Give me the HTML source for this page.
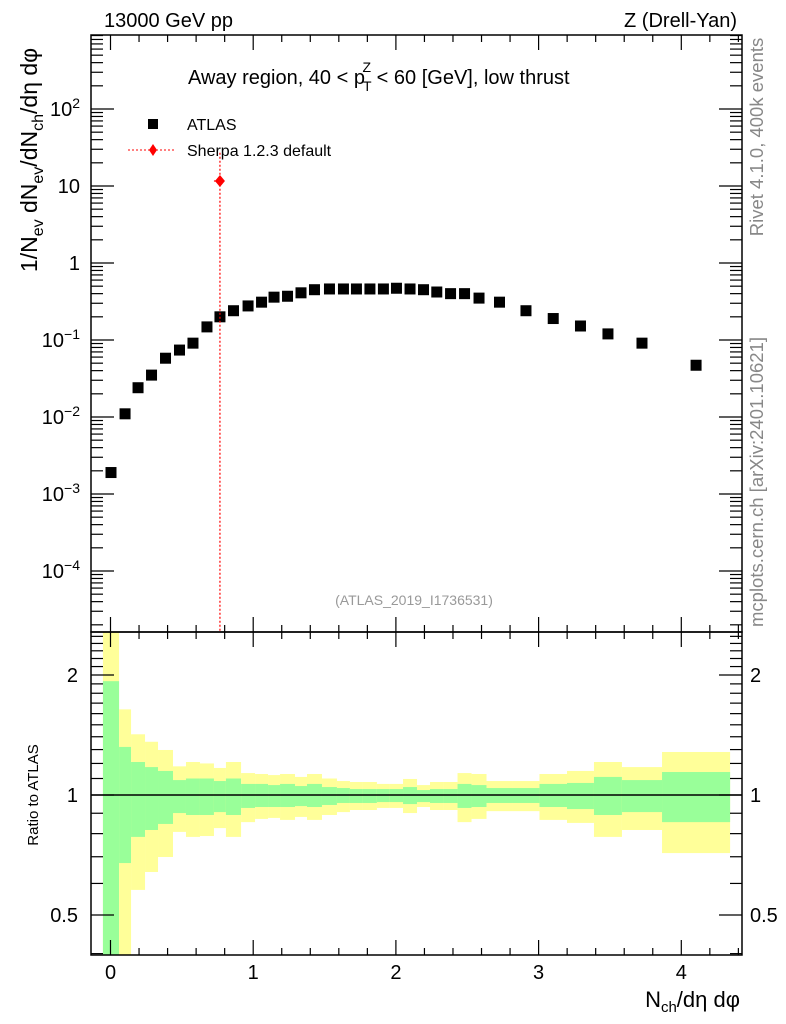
<!DOCTYPE html>
<html><head><meta charset="utf-8">
<style>
html,body{margin:0;padding:0;background:#fff;}
svg{display:block;font-family:"Liberation Sans",sans-serif;}
</style></head>
<body>
<svg id="c" width="786" height="1024" viewBox="0 0 786 1024" xmlns="http://www.w3.org/2000/svg">
<g id="bands"></g>
<g id="marks"></g>
<g id="axes"></g>
<text x="104" y="27" font-size="20">13000 GeV pp</text>
<text x="737" y="27" font-size="20" text-anchor="end">Z (Drell-Yan)</text>
<text x="188" y="84" font-size="20">Away region, 40 &lt; p<tspan font-size="14" dy="7" dx="-2">T</tspan><tspan font-size="14" dy="-19" dx="-9">Z</tspan><tspan dy="12"> &lt; 60 [GeV], low thrust</tspan></text>
<g>
<rect x="148" y="119" width="10" height="10" fill="#000"/>
<text x="187" y="130" font-size="16">ATLAS</text>
<line x1="128" y1="150" x2="176" y2="150" stroke="#f00" stroke-dasharray="2,2"/>
<path d="M153,144 L157,150 L153,156 L149,150 Z" fill="#f00"/>
<text x="187" y="156" font-size="16">Sherpa 1.2.3 default</text>
</g>
<text x="414" y="605" font-size="14" fill="#999" text-anchor="middle">(ATLAS_2019_I1736531)</text>
<text transform="translate(37,160) rotate(-90)" font-size="23" text-anchor="middle">1/N<tspan font-size="16" dy="6">ev</tspan><tspan dy="-6"> dN</tspan><tspan font-size="16" dy="6">ev</tspan><tspan dy="-6">/dN</tspan><tspan font-size="16" dy="6">ch</tspan><tspan dy="-6">/dη dφ</tspan></text>
<text transform="translate(38,795) rotate(-90)" font-size="15" text-anchor="middle">Ratio to ATLAS</text>
<text transform="translate(763,137) rotate(-90)" font-size="18.5" fill="#888" text-anchor="middle">Rivet 4.1.0,  400k events</text>
<text transform="translate(763,482) rotate(-90)" font-size="18.5" fill="#888" text-anchor="middle">mcplots.cern.ch [arXiv:2401.10621]</text>
<text x="740" y="1007" font-size="22" text-anchor="end">N<tspan font-size="15" dy="5">ch</tspan><tspan dy="-5">/dη dφ</tspan></text>
</svg>
<script>
const binEdges=[-0.053,0.060,0.144,0.242,0.333,0.438,0.529,0.627,0.725,0.809,0.915,1.013,1.104,1.188,1.293,1.377,1.482,1.587,1.678,1.769,1.867,1.958,2.050,2.148,2.239,2.334,2.432,2.530,2.635,2.817,3.006,3.199,3.388,3.584,3.865,4.342];
const atlasValues=[0.0019,0.011,0.024,0.035,0.058,0.074,0.091,0.148,0.2,0.24,0.277,0.31,0.36,0.37,0.41,0.45,0.46,0.46,0.46,0.46,0.46,0.47,0.46,0.45,0.42,0.40,0.40,0.35,0.31,0.24,0.19,0.152,0.12,0.091,0.047];
const yellowHi=[2.6,1.64,1.42,1.36,1.297,1.18,1.21,1.20,1.169,1.21,1.135,1.129,1.122,1.129,1.11,1.129,1.10,1.084,1.078,1.078,1.066,1.066,1.097,1.059,1.078,1.078,1.135,1.129,1.084,1.084,1.129,1.149,1.21,1.175,1.282];
const greenHi=[1.93,1.32,1.21,1.175,1.149,1.09,1.10,1.10,1.084,1.10,1.066,1.066,1.059,1.066,1.053,1.066,1.047,1.041,1.035,1.035,1.035,1.035,1.047,1.029,1.035,1.035,1.066,1.059,1.041,1.041,1.066,1.072,1.11,1.09,1.142];
const greenLo=[0.3,0.675,0.785,0.817,0.846,0.901,0.891,0.891,0.906,0.891,0.928,0.933,0.933,0.933,0.938,0.933,0.944,0.955,0.955,0.955,0.960,0.960,0.949,0.960,0.955,0.955,0.928,0.933,0.955,0.955,0.933,0.922,0.891,0.906,0.855];
const yellowLo=[0.3,0.3,0.578,0.641,0.699,0.808,0.785,0.789,0.826,0.785,0.855,0.871,0.876,0.866,0.881,0.866,0.891,0.906,0.917,0.917,0.928,0.928,0.901,0.933,0.917,0.917,0.855,0.871,0.911,0.911,0.866,0.851,0.785,0.817,0.715];
const sherpaX=[0.767];
const sherpaY=[11.6];
const sherpaYErrHi=[27];
const sherpaXErr=[0.042];
const xTicks=[0,1,2,3,4];
const yTicks=[1e-4,1e-3,1e-2,1e-1,1,10,100];
const yTickLabels=["10^-4","10^-3","10^-2","10^-1","1","10","10^2"];
const rTicks=[0.5,1,2];
const rTickLabels=["0.5","1","2"];

const L=91,R=742,T=35,MB=632,RB=955;
const X=v=>110.5+142.7*v;
const Y=v=>263-77*Math.log10(v);
const RY=r=>795-120*Math.log2(r);
const NS="http://www.w3.org/2000/svg";
function mk(parent,tag,attrs){const e=document.createElementNS(NS,tag);for(const k in attrs)e.setAttribute(k,attrs[k]);parent.appendChild(e);return e;}
const bands=document.getElementById('bands');
const marks=document.getElementById('marks');
const axes=document.getElementById('axes');
const clampR=y=>Math.max(MB,Math.min(RB,y));

for(let i=0;i<atlasValues.length;i++){
  const x0=X(binEdges[i]),x1=X(binEdges[i+1]);
  let yt=clampR(RY(yellowHi[i])),yb=clampR(RY(yellowLo[i]));
  const y1=mk(bands,'rect',{x:x0,y:yt,width:x1-x0,height:yb-yt,fill:'#ffff99'});
  
  
  let gt=clampR(RY(greenHi[i])),gb=clampR(RY(greenLo[i]));
  const g1=mk(bands,'rect',{x:x0,y:gt,width:x1-x0,height:gb-gt,fill:'#99ff99'});
  
  
}
const rl=mk(bands,'line',{x1:L,x2:R,y1:RY(1),y2:RY(1),stroke:'#000','stroke-width':1.5});



for(let i=0;i<atlasValues.length;i++){
  const cx=X((binEdges[i]+binEdges[i+1])/2),cy=Y(atlasValues[i]);
  const p=mk(marks,'rect',{x:cx-5.5,y:cy-5.5,width:11,height:11,fill:'#000'});
  
  
}
for(let i=0;i<sherpaX.length;i++){
  const cx=X(sherpaX[i]),cy=Y(sherpaY[i]);
  const v=mk(marks,'line',{x1:cx,x2:cx,y1:Y(sherpaYErrHi[i]),y2:MB,stroke:'#f00','stroke-dasharray':'2,2','stroke-width':1.2});
  
  
  const h=mk(marks,'line',{x1:X(sherpaX[i]-sherpaXErr[i]),x2:X(sherpaX[i]+sherpaXErr[i]),y1:cy,y2:cy,stroke:'#f00','stroke-dasharray':'2,2','stroke-width':1.2});
  
  
  const d=mk(marks,'path',{d:`M${cx},${cy-6}L${cx+5},${cy}L${cx},${cy+6}L${cx-5},${cy}Z`,fill:'#f00'});
  
  
}

[[T,MB],[MB,RB]].forEach(([a,b],k)=>{
  const f=mk(axes,'rect',{x:L,y:a,width:R-L,height:b-a,fill:'none',stroke:'#000','stroke-width':1.5});
  
  
});
for(let v=-0.2;v<=4.5;v+=0.2){
  const x=X(v);if(x<L||x>R)continue;
  const major=Math.abs(v-Math.round(v))<0.01;const len=major?15:7;
  [[T,1],[MB,-1],[MB,1],[RB,-1]].forEach(([y0,s])=>{
    const t=mk(axes,'line',{x1:x,x2:x,y1:y0,y2:y0+s*len,stroke:'#000','stroke-width':1.2});
    
    
  });
}
xTicks.forEach(v=>{
  const t=mk(axes,'text',{x:X(v),y:979,'font-size':20,'text-anchor':'middle'});
  t.textContent=String(v);
  
  
});
for(let e=-5;e<=2;e++){for(let m=1;m<10;m++){
  const v=m*Math.pow(10,e);const y=Y(v);if(y<T||y>MB)continue;
  const len=m==1?23:12;
  [[L,1],[R,-1]].forEach(([x0,s])=>{
    const t=mk(axes,'line',{x1:x0,x2:x0+s*len,y1:y,y2:y,stroke:'#000','stroke-width':1.2});
    
    
  });
}}
yTicks.forEach((v,i)=>{
  const lab=yTickLabels[i];
  const t=mk(axes,'text',{x:80,y:Y(v)+7,'font-size':20,'text-anchor':'end'});
  if(lab.includes('^')){const [b,ex]=lab.split('^');t.textContent=b;
    const s=mk(t,'tspan',{'font-size':14,dy:-8});s.textContent=ex.replace('-','\u2212');}
  else t.textContent=lab;
  
  
});
for(let r=0.4;r<=2.55;r+=0.1){
  const y=RY(r);if(y<MB||y>RB)continue;
  const major=[0.5,1,2].some(q=>Math.abs(q-r)<0.01);const len=major?23:12;
  [[L,1],[R,-1]].forEach(([x0,s])=>{
    const t=mk(axes,'line',{x1:x0,x2:x0+s*len,y1:y,y2:y,stroke:'#000','stroke-width':1.2});
    
    
  });
}
rTicks.forEach((r,i)=>{
  [[78,'end'],[750,'start']].forEach(([x,a])=>{
    const t=mk(axes,'text',{x:x,y:RY(r)+7,'font-size':20,'text-anchor':a});
    t.textContent=rTickLabels[i];
    
    
  });
});
</script>
</body></html>
